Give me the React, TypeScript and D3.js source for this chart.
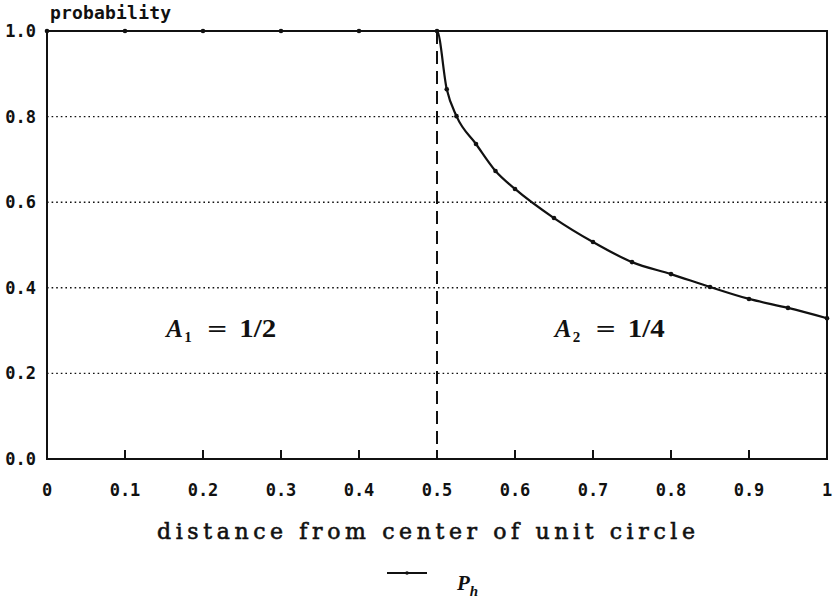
import { useEffect, useRef } from "react";
import * as d3 from "d3";

// distance from centre of unit circle
const distance = [
  0, 0.1, 0.2, 0.3, 0.4, 0.5, 0.5125, 0.525, 0.55, 0.575, 0.6, 0.65, 0.7, 0.75,
  0.8, 0.85, 0.9, 0.95, 1.0,
];
// P_h
const probability = [
  1, 1, 1, 1, 1, 1, 0.864, 0.801, 0.736, 0.673, 0.631, 0.563, 0.507, 0.46,
  0.432, 0.402, 0.374, 0.353, 0.329,
];
const xTicks = [0, 0.1, 0.2, 0.3, 0.4, 0.5, 0.6, 0.7, 0.8, 0.9, 1];
const xTickLabels = ["0", "0.1", "0.2", "0.3", "0.4", "0.5", "0.6", "0.7", "0.8", "0.9", "1"];
const yTicks = [0, 0.2, 0.4, 0.6, 0.8, 1.0];
const gridValues = [0.2, 0.4, 0.6, 0.8];
const boundary = 0.5;
const regions = [
  { sub: "1", area: "1/2", at: 0.153 },
  { sub: "2", area: "1/4", at: 0.651 },
];

const W = 836;
const H = 598;

export default function App() {
  const ref = useRef<SVGSVGElement | null>(null);

  useEffect(() => {
    if (!ref.current) return;
    const svg = d3.select(ref.current);
    svg.selectAll("*").remove();

    const x = d3.scaleLinear().domain([0, 1]).range([47, 827]);
    const y = d3.scaleLinear().domain([0, 1]).range([459, 31]);
    const ink = "#111";
    const mono = "'DejaVu Sans Mono', monospace";
    const serif = "'Liberation Serif', 'Times New Roman', serif";

    svg.append("rect").attr("width", W).attr("height", H).attr("fill", "#fff");

    // dotted grid
    svg
      .selectAll("line.grid")
      .data(gridValues)
      .enter()
      .append("line")
      .attr("class", "grid")
      .attr("x1", x(0))
      .attr("x2", x(1))
      .attr("y1", (d) => y(d))
      .attr("y2", (d) => y(d))
      .attr("stroke", ink)
      .attr("stroke-width", 1.4)
      .attr("stroke-dasharray", "1.6,3");

    // frame
    svg
      .append("rect")
      .attr("x", x(0))
      .attr("y", y(1))
      .attr("width", x(1) - x(0))
      .attr("height", y(0) - y(1))
      .attr("fill", "none")
      .attr("stroke", ink)
      .attr("stroke-width", 2);

    // bottom ticks (inward)
    svg
      .selectAll("line.xtick")
      .data(xTicks.slice(1, -1))
      .enter()
      .append("line")
      .attr("x1", (d) => x(d))
      .attr("x2", (d) => x(d))
      .attr("y1", y(0))
      .attr("y2", y(0) - 9)
      .attr("stroke", ink)
      .attr("stroke-width", 2);

    svg
      .selectAll("text.xlab")
      .data(xTicks)
      .enter()
      .append("text")
      .attr("x", (d) => x(d))
      .attr("y", 496)
      .attr("text-anchor", "middle")
      .attr("font-family", mono)
      .attr("font-weight", "bold")
      .attr("font-size", 17)
      .attr("fill", ink)
      .text((d, i) => xTickLabels[i]);

    svg
      .selectAll("text.ylab")
      .data(yTicks)
      .enter()
      .append("text")
      .attr("x", 36)
      .attr("y", (d) => y(d) + 6)
      .attr("text-anchor", "end")
      .attr("font-family", mono)
      .attr("font-weight", "bold")
      .attr("font-size", 17)
      .attr("fill", ink)
      .text((d) => d.toFixed(1));

    svg
      .append("text")
      .attr("x", 50)
      .attr("y", 19)
      .attr("font-family", mono)
      .attr("font-weight", "bold")
      .attr("font-size", 18)
      .attr("textLength", 121)
      .attr("fill", ink)
      .text("probability");

    // dashed boundary
    svg
      .append("line")
      .attr("x1", x(boundary))
      .attr("x2", x(boundary))
      .attr("y1", y(1))
      .attr("y2", y(0))
      .attr("stroke", ink)
      .attr("stroke-width", 2)
      .attr("stroke-dasharray", "13,7");

    const pts = distance.map((d, i) => [d, probability[i]] as [number, number]);
    const line = d3
      .line<[number, number]>()
      .x((d) => x(d[0]))
      .y((d) => y(d[1]))
      .curve(d3.curveMonotoneX);

    svg
      .append("path")
      .attr("d", line(pts))
      .attr("fill", "none")
      .attr("stroke", ink)
      .attr("stroke-width", 2.2);

    svg
      .selectAll("circle.pt")
      .data(pts)
      .enter()
      .append("circle")
      .attr("cx", (d) => x(d[0]))
      .attr("cy", (d) => y(d[1]))
      .attr("r", 2.3)
      .attr("fill", ink);

    // region annotations
    regions.forEach((r) => {
      const x0 = x(r.at);
      const g = svg
        .append("g")
        .attr("font-family", serif)
        .attr("font-weight", "bold")
        .attr("fill", ink);
      g.append("text")
        .attr("x", x0)
        .attr("y", 337)
        .attr("font-size", 25)
        .attr("font-style", "italic")
        .text("A");
      g.append("text")
        .attr("x", x0 + 18)
        .attr("y", 342)
        .attr("font-size", 15)
        .text(r.sub);
      g.append("text")
        .attr("x", x0 + 41)
        .attr("y", 337)
        .attr("font-size", 24)
        .attr("textLength", 20)
        .attr("lengthAdjust", "spacingAndGlyphs")
        .text("=");
      g.append("text")
        .attr("x", x0 + 73)
        .attr("y", 337)
        .attr("font-size", 25)
        .attr("textLength", 37)
        .attr("lengthAdjust", "spacingAndGlyphs")
        .text(r.area);
    });

    // x axis title
    svg
      .append("text")
      .attr("x", 157)
      .attr("y", 539)
      .attr("font-family", "'DejaVu Serif', serif")
      .attr("font-size", 22)
      .attr("stroke", ink)
      .attr("stroke-width", 0.6)
      .attr("textLength", 538)
      .attr("lengthAdjust", "spacing")
      .attr("fill", ink)
      .text("distance from center of unit circle");

    // legend
    svg
      .append("line")
      .attr("x1", 387)
      .attr("x2", 427)
      .attr("y1", 573)
      .attr("y2", 573)
      .attr("stroke", ink)
      .attr("stroke-width", 2);
    svg.append("circle").attr("cx", 407).attr("cy", 573).attr("r", 1.8).attr("fill", ink);
    const lg = svg
      .append("text")
      .attr("x", 457)
      .attr("y", 590)
      .attr("font-family", serif)
      .attr("font-style", "italic")
      .attr("font-weight", "bold")
      .attr("font-size", 21)
      .attr("fill", ink);
    lg.append("tspan").text("P");
    lg.append("tspan").attr("font-size", 15).attr("dy", 6).text("h");
  }, []);

  return (
    <svg
      ref={ref}
      width={W}
      height={H}
      style={{ position: "absolute", left: 0, top: 0 }}
    />
  );
}
